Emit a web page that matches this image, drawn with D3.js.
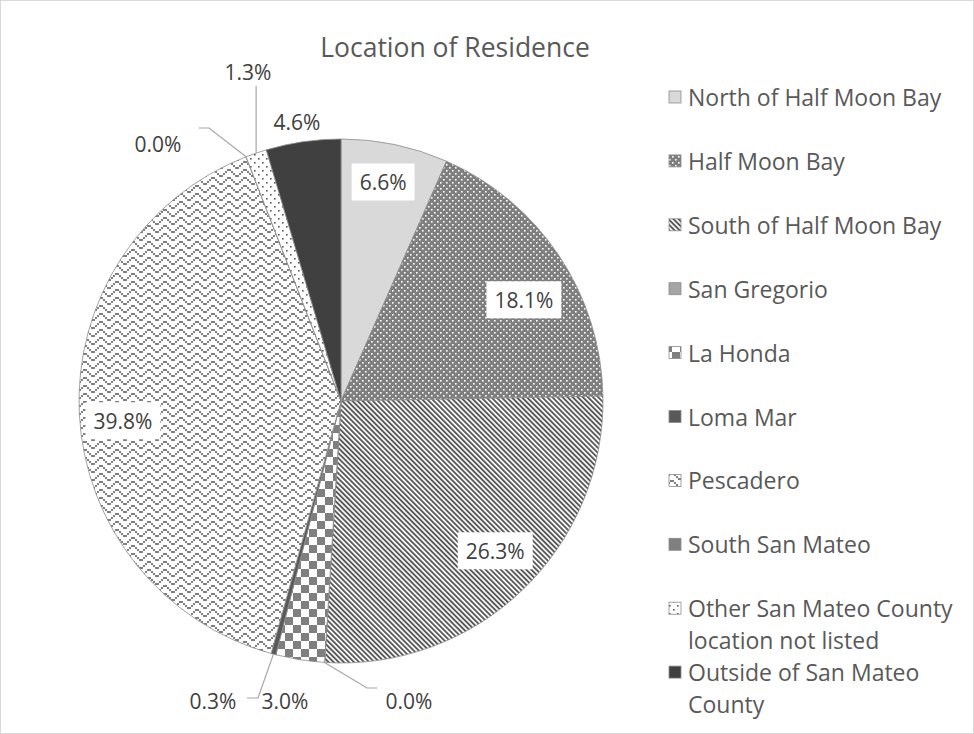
<!DOCTYPE html>
<html>
<head>
<meta charset="utf-8">
<script src="https://cdn.jsdelivr.net/npm/d3@7"></script>
<style>
  html, body { margin: 0; padding: 0; background: #fff; }
  svg { display: block; }
  text { font-family: "Open Sans", "Noto Sans", sans-serif; }
</style>
</head>
<body>
<svg id="chart" width="974" height="734"></svg>
<script>
// ---- data ----
const title = "Location of Residence";
const categories = [
  "North of Half Moon Bay",
  "Half Moon Bay",
  "South of Half Moon Bay",
  "San Gregorio",
  "La Honda",
  "Loma Mar",
  "Pescadero",
  "South San Mateo",
  "Other San Mateo County location not listed",
  "Outside of San Mateo County"
];
const values = [6.6, 18.1, 26.3, 0.0, 3.0, 0.3, 39.8, 0.0, 1.3, 4.6];
const legendLines = [
  ["North of Half Moon Bay"],
  ["Half Moon Bay"],
  ["South of Half Moon Bay"],
  ["San Gregorio"],
  ["La Honda"],
  ["Loma Mar"],
  ["Pescadero"],
  ["South San Mateo"],
  ["Other San Mateo County", "location not listed"],
  ["Outside of San Mateo", "County"]
];

// ---- layout / style ----
const W = 974, H = 734;
const cx = 341, cy = 401, R = 262;
const fills = ["url(#pNorth)", "url(#pHmb)", "url(#pSouth)", "#a5a5a5", "url(#pCheck)",
               "#595959", "url(#pZig)", "#7f7f7f", "url(#pOther)", "#404040"];
// in-slice labels: polar placement relative to slice middle
const insidePlacement = {0: {r: 223, da: -1.0}, 1: {r: 209, da: 4.7}, 2: {r: 215, da: -2.1},
                         6: {r: 219, da: -2.3}, 9: {r: 282, da: -0.7, nobox: true}};
// outside labels with leader lines
const outsidePlacement = {
  3: {pos: [409, 701], leader: [[367, 688], [377, 688]]},
  4: {pos: [285, 701], leader: null},
  5: {pos: [213, 701], leader: [[258, 698], [247, 698]]},
  7: {pos: [158, 144], leader: [[209, 128], [199, 128]]},
  8: {pos: [248, 72], leader: "vertical", top: 86}
};

const svg = d3.select("#chart");
svg.append("rect").attr("x", 0.5).attr("y", 0.5).attr("width", W - 1).attr("height", H - 1)
  .attr("fill", "#fff").attr("stroke", "#d9d9d9").attr("stroke-width", 1);

// ---- patterns ----
const defs = svg.append("defs");
function pat(id, w, h) {
  return defs.append("pattern").attr("id", id).attr("patternUnits", "userSpaceOnUse")
    .attr("width", w).attr("height", h);
}
function cells(p, list, size, color) {
  list.forEach(([cxl, cyl]) => p.append("rect").attr("x", cxl * size).attr("y", cyl * size)
    .attr("width", size).attr("height", size).attr("fill", color).attr("shape-rendering", "crispEdges"));
}
let p;
p = pat("pNorth", 4, 4); p.append("rect").attr("width", 4).attr("height", 4).attr("fill", "#d9d9d9");
p = pat("pHmb", 6, 6);
p.append("rect").attr("width", 6).attr("height", 6).attr("fill", "#7f7f7f");
p.append("rect").attr("x", 0).attr("y", 0).attr("width", 1.6).attr("height", 1.6).attr("fill", "#fff");
p.append("rect").attr("x", 3).attr("y", 3).attr("width", 1.6).attr("height", 1.6).attr("fill", "#fff");
p = pat("pSouth", 3.6, 3.6).attr("patternTransform", "rotate(-45)");
p.append("rect").attr("width", 3.6).attr("height", 3.6).attr("fill", "#fff");
p.append("rect").attr("width", 1.9).attr("height", 3.6).attr("fill", "#595959");
p = pat("pCheck", 16, 16);
p.append("rect").attr("width", 16).attr("height", 16).attr("fill", "#fff");
p.append("rect").attr("width", 8).attr("height", 8).attr("fill", "#7f7f7f");
p.append("rect").attr("x", 8).attr("y", 8).attr("width", 8).attr("height", 8).attr("fill", "#7f7f7f");
p = pat("pZig", 16, 8);
p.append("rect").attr("width", 16).attr("height", 8).attr("fill", "#fff");
cells(p, [[0,0],[7,0],[1,1],[6,1],[2,2],[5,2],[3,3],[4,3]], 2, "#7f7f7f");
p = pat("pOther", 8, 8);
p.append("rect").attr("width", 8).attr("height", 8).attr("fill", "#fff");
p.append("rect").attr("x", 1).attr("y", 1).attr("width", 1.6).attr("height", 1.6).attr("fill", "#595959");
p.append("rect").attr("x", 5).attr("y", 5).attr("width", 1.6).attr("height", 1.6).attr("fill", "#595959");

// ---- title ----
svg.append("text").attr("x", 455).attr("y", 47).attr("text-anchor", "middle")
  .attr("dominant-baseline", "central").attr("font-size", 26.5).attr("fill", "#595959").text(title);

// ---- pie ----
const pie = d3.pie().sort(null).value(d => d).startAngle(0).endAngle(2 * Math.PI);
const arcs = pie(values);
const arc = d3.arc().innerRadius(0).outerRadius(R);
const g = svg.append("g").attr("transform", `translate(${cx},${cy})`);
g.selectAll("path.slice").data(arcs).join("path").attr("class", "slice")
  .attr("d", arc).attr("fill", (d, i) => fills[i])
  .attr("stroke", "#8c8c8c").attr("stroke-width", 0.8).attr("stroke-linejoin", "round");

const fmt = v => d3.format(".1f")(v) + "%";
const polar = (angRad, r) => [cx + r * Math.sin(angRad), cy - r * Math.cos(angRad)];
const labelG = svg.append("g");
const LFS = 21;

arcs.forEach((d, i) => {
  const mid = (d.startAngle + d.endAngle) / 2;
  if (insidePlacement[i]) {
    const pl = insidePlacement[i];
    const [x, y] = polar(mid + pl.da * Math.PI / 180, pl.r);
    const t = labelG.append("text").attr("x", x).attr("y", y).attr("text-anchor", "middle")
      .attr("dominant-baseline", "central").attr("font-size", LFS).attr("fill", "#404040").text(fmt(values[i]));
    if (!pl.nobox) {
      const bb = t.node().getBBox();
      labelG.insert("rect", "text").attr("x", x - bb.width / 2 - 8).attr("y", y - 18.5)
        .attr("width", bb.width + 16).attr("height", 37).attr("fill", "#fff");
    }
  } else if (outsidePlacement[i]) {
    const pl = outsidePlacement[i];
    const start = polar(mid, R);
    if (pl.leader === "vertical") {
      labelG.append("path").attr("d", d3.line()([start, [start[0], pl.top]]))
        .attr("fill", "none").attr("stroke", "#a6a6a6").attr("stroke-width", 1.2);
    } else if (pl.leader) {
      labelG.append("path").attr("d", d3.line()([start, ...pl.leader]))
        .attr("fill", "none").attr("stroke", "#a6a6a6").attr("stroke-width", 1.2);
    }
    labelG.append("text").attr("x", pl.pos[0]).attr("y", pl.pos[1]).attr("text-anchor", "middle")
      .attr("dominant-baseline", "central").attr("font-size", LFS).attr("fill", "#404040").text(fmt(values[i]));
  }
});

// ---- legend ----
const legY0 = 97, legStep = 63.9, mk = 12;
const leg = svg.append("g");
categories.forEach((c, i) => {
  const y = legY0 + i * legStep;
  leg.append("rect").attr("x", 669).attr("y", y - mk / 2).attr("width", mk).attr("height", mk)
    .attr("fill", fills[i]).attr("stroke", "#8c8c8c").attr("stroke-width", 0.8);
  const t = leg.append("text").attr("x", 688).attr("y", y).attr("font-size", 23)
    .attr("fill", "#595959").attr("dominant-baseline", "central");
  legendLines[i].forEach((ln, k) => {
    t.append("tspan").attr("x", 688).attr("dy", k === 0 ? 0 : 31.5).text(ln);
  });
});
</script>
</body>
</html>
